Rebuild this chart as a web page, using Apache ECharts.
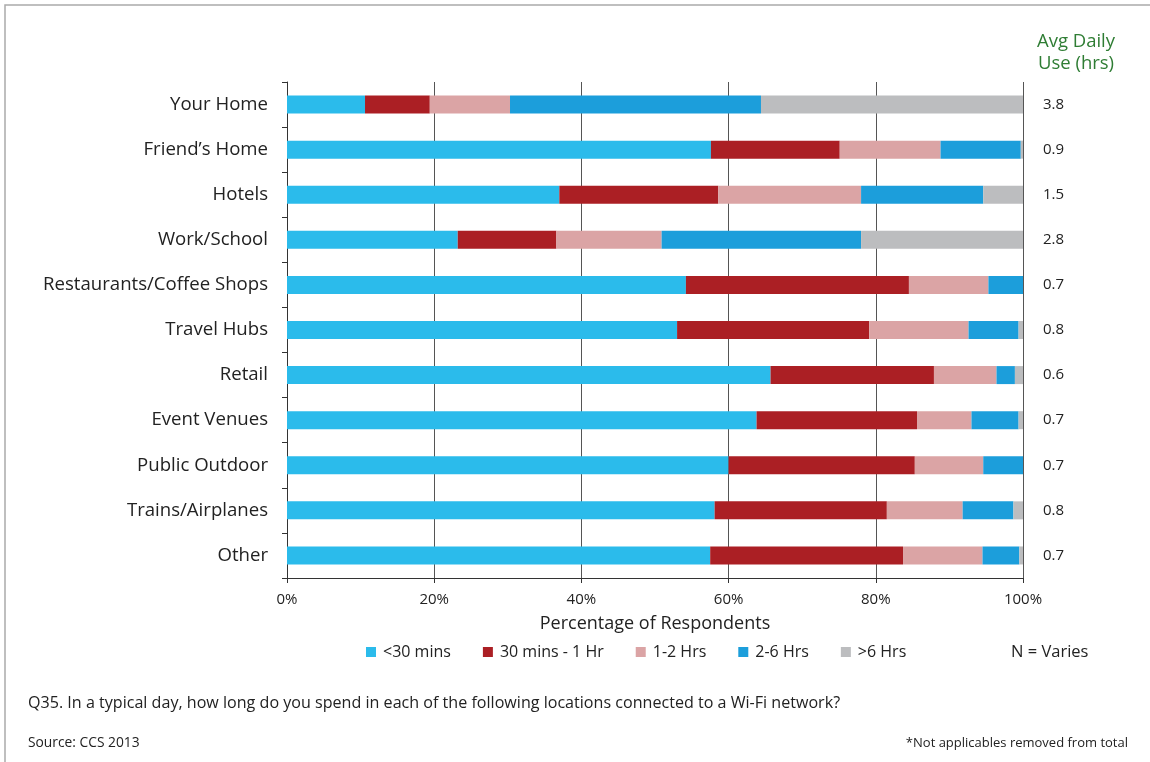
<!DOCTYPE html>
<html>
<head>
<meta charset="utf-8">
<script src="https://cdn.jsdelivr.net/npm/echarts@6/dist/echarts.min.js"></script>
<style>
html,body{margin:0;padding:0;background:#fff;}
#chart{width:1150px;height:762px;}
</style>
</head>
<body>
<div id="chart"></div>
<script>
var categories = ['Your Home', 'Friend\u2019s Home', 'Hotels', 'Work/School', 'Restaurants/Coffee Shops', 'Travel Hubs', 'Retail', 'Event Venues', 'Public Outdoor', 'Trains/Airplanes', 'Other'];
var avgUse = ['3.8', '0.9', '1.5', '2.8', '0.7', '0.8', '0.6', '0.7', '0.7', '0.8', '0.7'];
var seriesNames = ['<30 mins', '30 mins - 1 Hr', '1-2 Hrs', '2-6 Hrs', '>6 Hrs'];
var under30 = [10.6, 57.6, 37.0, 23.2, 54.2, 53.0, 65.7, 63.8, 60.0, 58.1, 57.5];
var min30to1h = [8.8, 17.5, 21.6, 13.4, 30.3, 26.1, 22.2, 21.8, 25.3, 23.4, 26.2];
var hrs1to2 = [10.9, 13.7, 19.4, 14.3, 10.8, 13.5, 8.5, 7.4, 9.3, 10.3, 10.8];
var hrs2to6 = [34.1, 10.9, 16.6, 27.1, 4.7, 6.8, 2.5, 6.4, 5.4, 6.9, 5.0];
var over6 = [35.6, 0.3, 5.4, 22.0, 0, 0.6, 1.1, 0.6, 0, 1.3, 0.5];
var xTicks = [0, 20, 40, 60, 80, 100];

var colors = ['#2bbbeb', '#ab1f24', '#dba4a5', '#1c9edb', '#bcbdbf'];
var values = [under30, min30to1h, hrs1to2, hrs2to6, over6];
var FONT = '"Open Sans", "Liberation Sans", Arial, sans-serif';

var chart = echarts.init(document.getElementById('chart'), null, {renderer: 'canvas'});
var series = seriesNames.map(function (n, i) {
  return {
    name: n, type: 'bar', stack: 'total', barWidth: 18,
    itemStyle: {color: colors[i]},
    emphasis: {disabled: true},
    data: values[i]
  };
});

chart.setOption({
  backgroundColor: '#fff',
  animation: false,
  textStyle: {fontFamily: FONT},
  grid: {left: 287, right: 127, top: 82, bottom: 184},
  legend: {
    left: 366, top: 644, padding: 0, itemWidth: 10, itemHeight: 10, itemGap: 32,
    icon: 'rect',
    data: seriesNames,
    textStyle: {fontSize: 16, color: '#222', fontFamily: FONT, padding: [0, 0, 0, 2]}
  },
  xAxis: {
    type: 'value', min: xTicks[0], max: xTicks[xTicks.length - 1], interval: 20,
    axisLine: {show: true, lineStyle: {color: '#333', width: 1}},
    axisTick: {show: true, length: 5, lineStyle: {color: '#333'}},
    splitLine: {show: true, lineStyle: {color: '#555', width: 1}},
    axisLabel: {formatter: '{value}%', fontSize: 15, color: '#222', margin: 14, fontFamily: FONT},
    name: 'Percentage of Respondents', nameLocation: 'middle', nameGap: 37,
    nameTextStyle: {fontSize: 18, color: '#222', fontFamily: FONT}
  },
  yAxis: [{
    type: 'category', data: categories, inverse: true,
    axisLine: {show: true, lineStyle: {color: '#333', width: 1}},
    axisTick: {show: true, length: 5, lineStyle: {color: '#333'}},
    axisLabel: {fontSize: 18.6, color: '#222', margin: 19, fontFamily: FONT}
  }, {
    type: 'category', data: avgUse, inverse: true, position: 'right',
    axisLine: {show: false}, axisTick: {show: false},
    axisLabel: {fontSize: 15, color: '#222', margin: 20, fontFamily: FONT}
  }],
  series: series,
  graphic: [
    {type: 'polyline', shape: {points: [[5, 762], [5, 5], [1150, 5]]}, style: {stroke: '#aaa', lineWidth: 1.5, fill: null}},
    {type: 'text', x: 1076, y: 53, style: {text: 'Avg Daily\nUse (hrs)', font: '18.5px ' + FONT, fill: '#2f7d34', align: 'center', verticalAlign: 'middle', lineHeight: 22}},
    {type: 'text', x: 1011, y: 652, style: {text: 'N = Varies', font: '16.5px ' + FONT, fill: '#222', verticalAlign: 'middle'}},
    {type: 'text', x: 28, y: 703, style: {text: 'Q35. In a typical day, how long do you spend in each of the following locations connected to a Wi-Fi network?', font: '16.1px ' + FONT, fill: '#222', verticalAlign: 'middle'}},
    {type: 'text', x: 28, y: 743, style: {text: 'Source: CCS 2013', font: '13.8px ' + FONT, fill: '#222', verticalAlign: 'middle'}},
    {type: 'text', x: 1128, y: 743, style: {text: '*Not applicables removed from total', font: '13px ' + FONT, fill: '#222', align: 'right', verticalAlign: 'middle'}}
  ]
});
</script>
</body>
</html>
